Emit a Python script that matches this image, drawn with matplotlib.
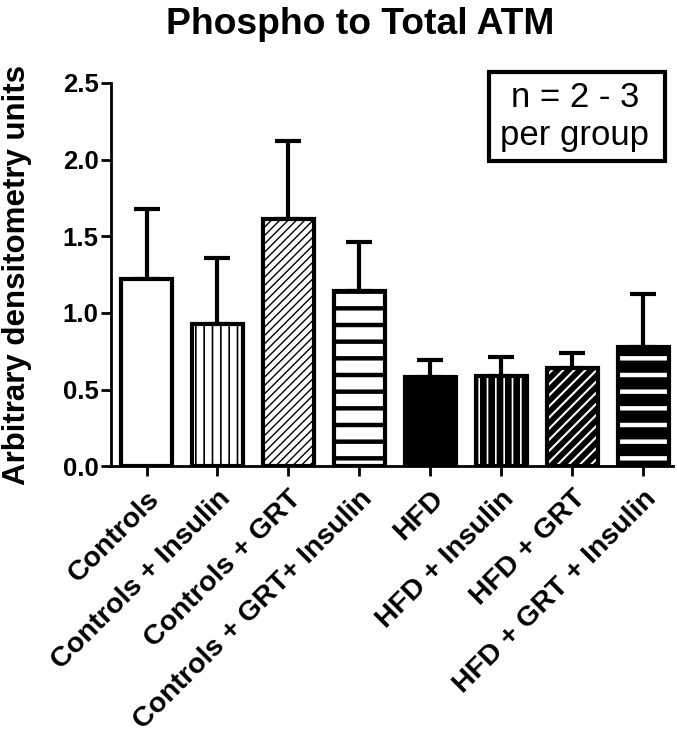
import matplotlib
matplotlib.use("Agg")
import matplotlib.pyplot as plt
from matplotlib.patches import Rectangle
import numpy as np

plt.rcParams['font.family'] = ['Liberation Sans', 'DejaVu Sans']

groups = ["Controls", "Controls + Insulin", "Controls + GRT", "Controls + GRT+ Insulin",
          "HFD", "HFD + Insulin", "HFD + GRT", "HFD + GRT + Insulin"]
means = [1.22, 0.93, 1.61, 1.14, 0.58, 0.59, 0.64, 0.78]
errors = [0.46, 0.43, 0.51, 0.32, 0.11, 0.12, 0.10, 0.34]
yticks = [0.0, 0.5, 1.0, 1.5, 2.0, 2.5]

# fill colour, hatch pattern, hatch colour, hatch width for each bar
styles = [
    ("white", "", "black", 1.0),
    ("white", "||", "black", 1.2),
    ("white", "////", "black", 1.0),
    ("white", "-", "black", 3.2),
    ("black", "", "white", 1.0),
    ("black", "||", "white", 1.2),
    ("black", "///", "white", 1.5),
    ("black", "-", "white", 3.2),
]

fig = plt.figure(figsize=(6.77, 7.40), dpi=100)
ax = fig.add_axes([0.164, 0.370, 0.83, 0.518])

x = np.arange(len(groups))
width = 0.72
for xi, m, (fc, hatch, hc, hlw) in zip(x, means, styles):
    b = ax.bar(xi, m, width=width, color=fc, edgecolor=hc, hatch=hatch, linewidth=0, zorder=2)
    for p in b:
        try:
            p.set_hatch_linewidth(hlw)
        except AttributeError:
            pass
    ax.bar(xi, m, width=width, facecolor="none", edgecolor="black", linewidth=3.0, zorder=3)

ax.errorbar(x, means, yerr=[np.zeros(len(errors)), errors], fmt="none", ecolor="black",
            elinewidth=3.0, capsize=9.5, capthick=3.0, zorder=1)

ax.set_ylim(0, 2.5)
ax.set_xlim(-0.5, 7.42)
ax.set_yticks(yticks)
ax.set_yticklabels([f"{v:.1f}" for v in yticks], fontsize=18.5, fontweight="bold")
ax.set_xticks(x)
ax.set_xticklabels(groups, rotation=45, ha="right", va="top", rotation_mode="anchor",
                   fontsize=20.5, fontweight="bold")
ax.tick_params(axis="both", width=2, length=7, color="black")
ax.tick_params(axis="x", pad=7)
ax.tick_params(axis="y", pad=2)
for s in ["top", "right"]:
    ax.spines[s].set_visible(False)
for s in ["left", "bottom"]:
    ax.spines[s].set_linewidth(2)
ax.set_ylabel("Arbitrary densitometry units", fontsize=22.5, fontweight="bold")
ax.yaxis.set_label_coords(-0.141, 0.5)

fig.text(0.5325, 0.9547, "Phospho to Total ATM", ha="center", va="baseline",
         fontsize=26.8, fontweight="bold")

# sample-size box
fig.add_artist(Rectangle((0.7223, 0.7824), 0.26, 0.1203, transform=fig.transFigure,
                         facecolor="white", edgecolor="black", linewidth=3, zorder=5))
fig.text(0.849, 0.8554, "n = 2 - 3", ha="center", va="baseline", fontsize=25, zorder=6)
fig.text(0.849, 0.8041, "per group", ha="center", va="baseline", fontsize=25, zorder=6)

fig.savefig("out.png", dpi=100, facecolor="white")
